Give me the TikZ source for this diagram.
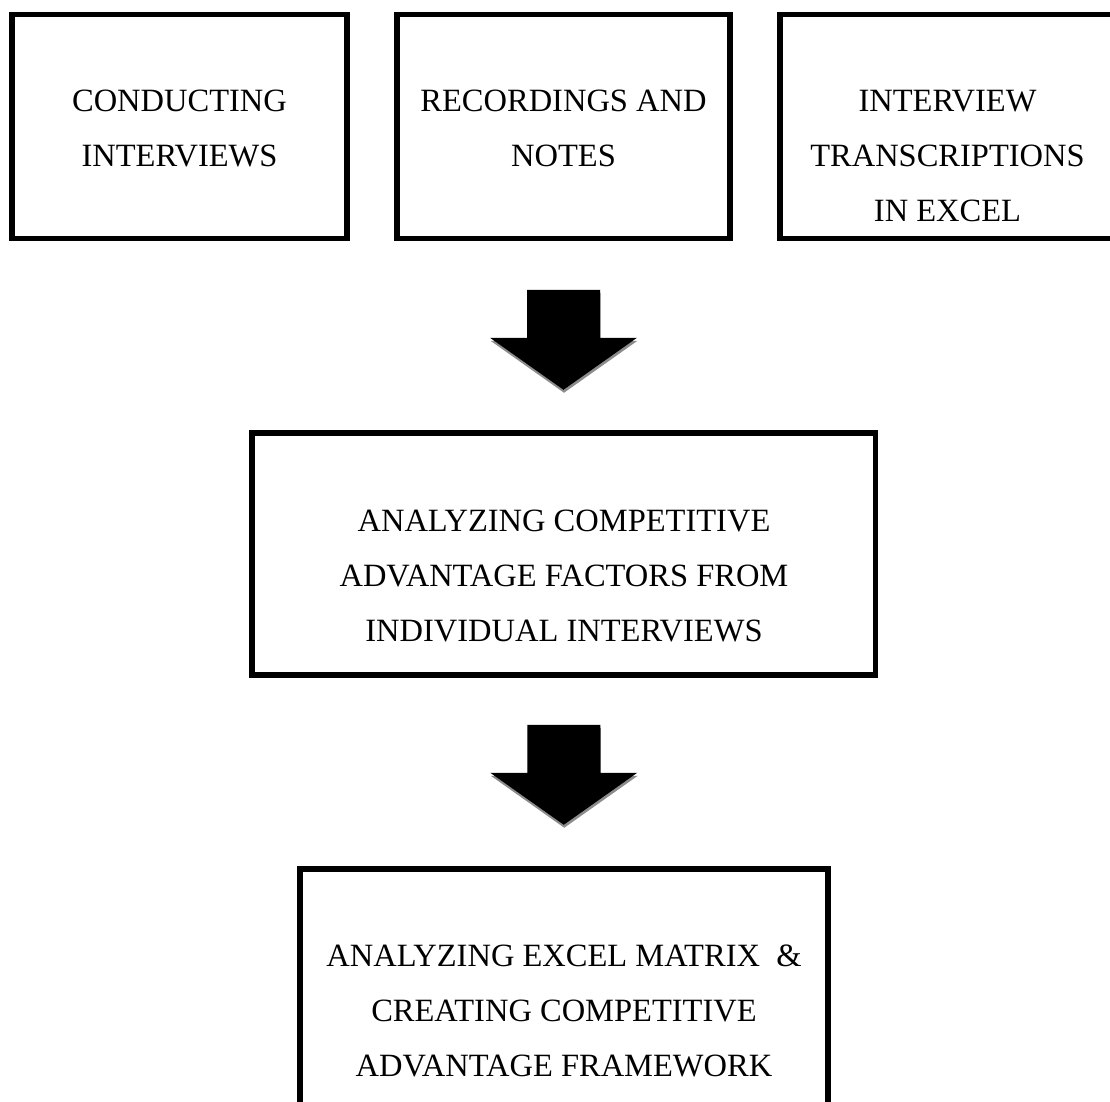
\documentclass[tikz,border=0pt]{standalone}
\usepackage{fontspec}
\setmainfont{Liberation Serif}
\usetikzlibrary{calc}
\tikzset{
  stepbox/.style={draw=black, line width=5.5pt, fill=none, inner sep=0pt, rectangle},
  boxtext/.style={align=center, inner sep=0pt, font=\fontsize{32.5}{55}\selectfont},
}
\newcommand\blockarrow[1]{%
  \fill[black!45] ($(#1)+(0.5,3)$) ++(-36.5,0) -- ++(73,0) -- ++(0,48) -- ++(37,0) -- ++(-73.5,52) -- ++(-73.5,-52) -- ++(37,0) -- cycle;
  \fill[black] (#1) ++(-36.5,0) -- ++(73,0) -- ++(0,48) -- ++(37,0) -- ++(-73.5,52) -- ++(-73.5,-52) -- ++(37,0) -- cycle;
}
\begin{document}
\begin{tikzpicture}[x=1pt,y=-1pt]
\useasboundingbox (0,0) rectangle (1110,1101);
% boxes
\node[stepbox, minimum width=335pt, minimum height=224pt] (b1) at (179.5,126.5) {};
\node[stepbox, minimum width=333pt, minimum height=224pt] (b2) at (563.5,126.5) {};
\node[stepbox, minimum width=335pt, minimum height=224pt] (b3) at (947.5,126.5) {};
\node[stepbox, minimum width=623.5pt, minimum height=242pt] (b4) at (563.75,554) {};
\node[stepbox, minimum width=528pt, minimum height=256pt] (b5) at (564,997) {};
% texts
\node[boxtext] (t1) at (179.5,128.75) {CONDUCTING\\INTERVIEWS};
\node[boxtext] (t2) at (563.5,128.75) {RECORDINGS AND\\NOTES};
\node[boxtext] (t3) at (947.5,156.25) {INTERVIEW\\TRANSCRIPTIONS\\IN EXCEL};
\node[boxtext] (t4) at (564,576.25) {ANALYZING COMPETITIVE\\ADVANTAGE FACTORS FROM\\INDIVIDUAL INTERVIEWS};
\node[boxtext] (t5) at (564,1010.75) {ANALYZING EXCEL MATRIX\ \ \&\\CREATING COMPETITIVE\\ADVANTAGE FRAMEWORK};
% block arrows
\coordinate (a1) at ($(b2.south)+(0,48.5)$);
\coordinate (a2) at ($(b4.south)+(0,47)$);
\blockarrow{a1}
\blockarrow{a2}
\end{tikzpicture}
\end{document}
